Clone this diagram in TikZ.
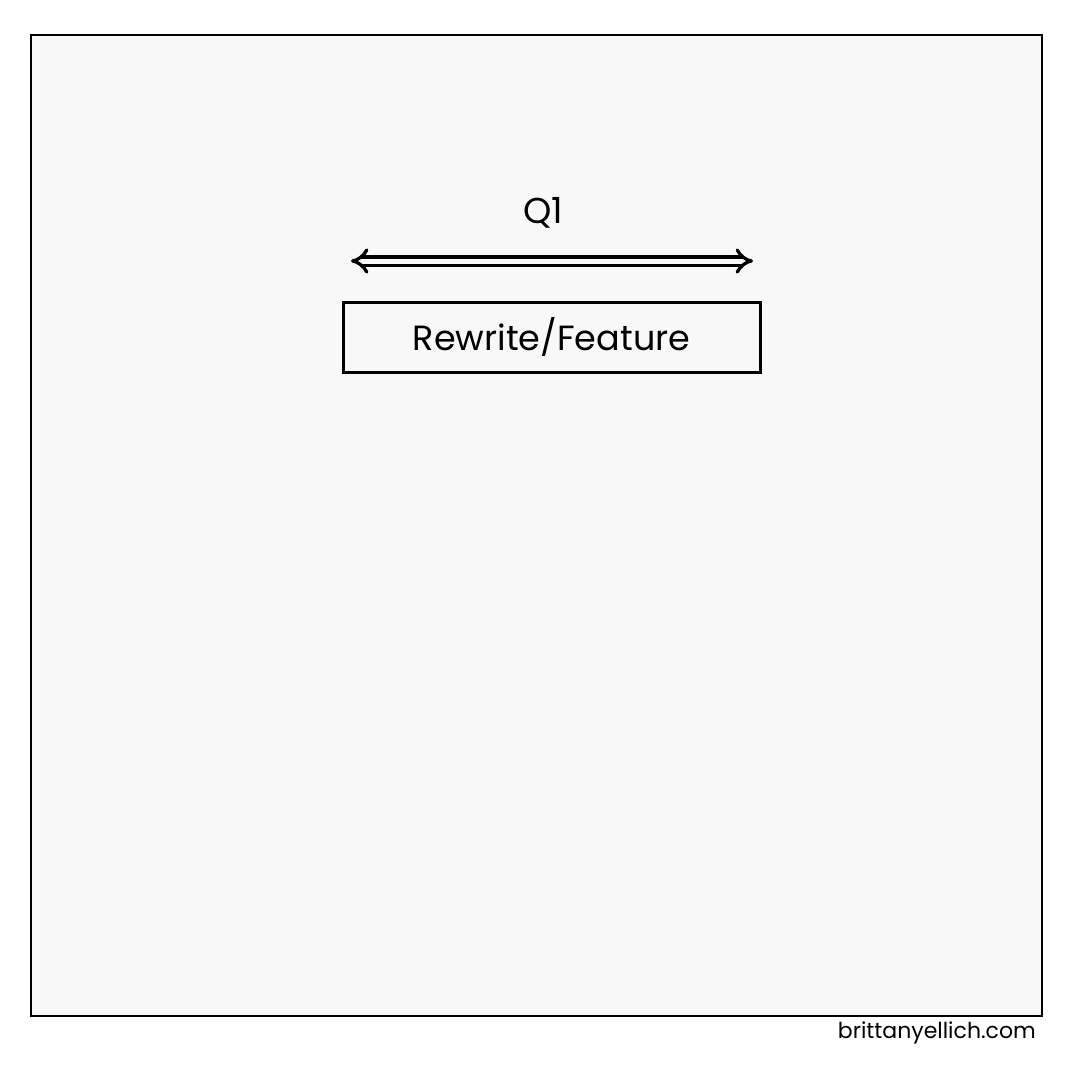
\documentclass[tikz,border=0pt]{standalone}
\usepackage{fontspec}
\setmainfont{Poppins}
\usetikzlibrary{arrows.meta}
\definecolor{panelbg}{HTML}{F8F8F8}
\tikzset{
  panel/.style={draw=black, line width=2pt, fill=panelbg},
  labelbox/.style={draw=black, line width=3pt, minimum width=417pt, minimum height=70pt, inner sep=0pt, font=\fontsize{35}{40}\selectfont},
  toptext/.style={font=\fontsize{36}{40}\selectfont, inner sep=0pt},
  footer/.style={font=\fontsize{22}{26}\selectfont, inner sep=0pt, anchor=east},
  span/.style={double=panelbg, double distance=5pt, line width=3.3pt, {Implies}-{Implies}}
}
\begin{document}
\begin{tikzpicture}[x=1pt, y=-1pt]
\useasboundingbox[fill=white] (0,0) rectangle (1080,1080);
\draw[panel] (31,35) rectangle (1042,1016);
\node[toptext] (q1) at (543,213) {Q1};
\coordinate (aL) at (351,261);
\coordinate (aR) at (753,261);
\draw[span] (aL) -- (aR);
\node[labelbox] (box) at (551.5,337) {Rewrite/Feature};
\node[footer] (site) at (1036,1033) {brittanyellich.com};
\end{tikzpicture}
\end{document}
